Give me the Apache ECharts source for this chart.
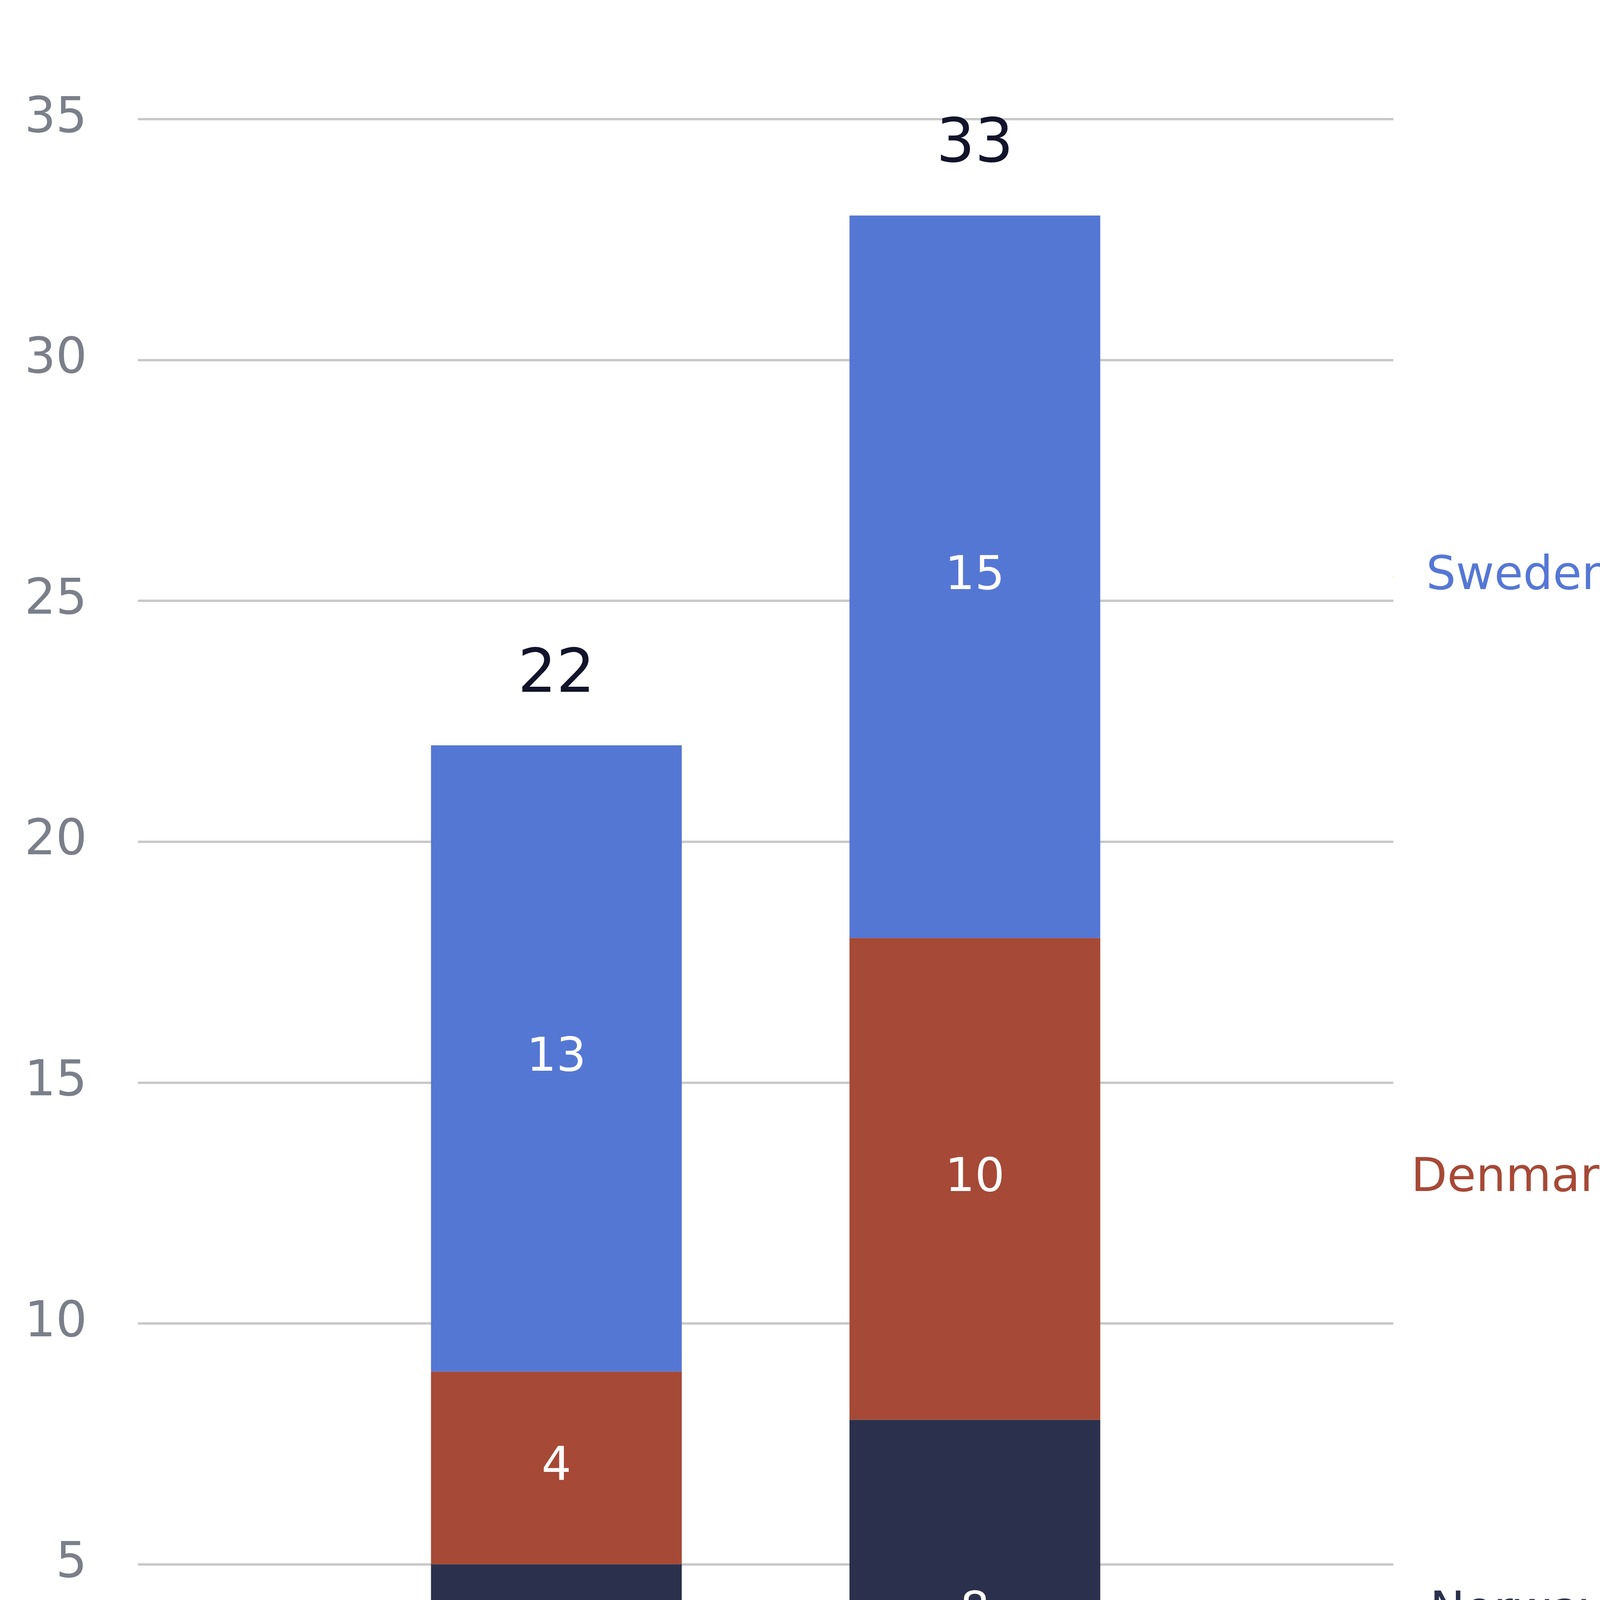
<!DOCTYPE html>
<html>
<head>
<meta charset="utf-8">
<script src="https://cdn.jsdelivr.net/npm/echarts@6/dist/echarts.min.js"></script>
<style>html,body{margin:0;padding:0;background:#fff}#chart{width:4301px;height:4995px}</style>
</head>
<body>
<div id="chart"></div>
<script>
// categories padded with empty slots so the bars sit at 1/3 and 2/3
var years = ['', '2004', '2022', ''];
var norway = [null, 5, 8, null];
var denmark = [null, 4, 10, null];
var sweden = [null, 13, 15, null];
var names = ['Norway', 'Denmark', 'Sweden'];
var colors = ['#2b304c', '#a64936', '#5577d4'];

var values = [norway, denmark, sweden];
var totals = [1, 2].map(function (i) {
    return [years[i], norway[i] + denmark[i] + sweden[i]];
});

// right-side labels at middle of the last bar's segments
var base = 0;
var sideLabels = values.map(function (arr, k) {
    var v = arr[2];
    var mid = base + v / 2;
    base += v;
    return {name: names[k], value: [years[3], mid], label: {color: colors[k]}};
});

var chart = echarts.init(document.getElementById('chart'));
var series = values.map(function (arr, k) {
    return {
        name: names[k],
        type: 'bar',
        stack: 'all',
        barWidth: 642,
        data: arr,
        itemStyle: {color: colors[k]},
        label: {
            show: true,
            position: 'inside',
            color: '#ffffff',
            fontSize: 120,
            fontFamily: 'DejaVu Sans'
        }
    };
});
series.push({
    type: 'scatter',
    symbolSize: 0,
    itemStyle: {opacity: 1},
    data: totals,
    label: {
        show: true,
        position: 'top',
        distance: 100,
        formatter: function (p) { return p.value[1]; },
        color: '#11142a',
        fontSize: 155,
        fontFamily: 'DejaVu Sans'
    }
});
series.push({
    type: 'scatter',
    symbolSize: 0,
    itemStyle: {opacity: 1},
    data: sideLabels,
    label: {
        show: true,
        position: 'inside',
        offset: [321, 0],
        formatter: '{b}',
        fontSize: 120,
        fontFamily: 'DejaVu Sans'
    }
});

chart.setOption({
    animation: false,
    grid: {left: 353, right: 734, top: 305, bottom: 374},
    xAxis: {
        type: 'category',
        data: years,
        boundaryGap: false,
        axisTick: {show: false},
        axisLine: {lineStyle: {color: '#c8c8c8', width: 4}},
        axisLabel: {color: '#7a7f8a', fontSize: 126, margin: 120, fontFamily: 'DejaVu Sans'}
    },
    yAxis: {
        type: 'value',
        min: 0,
        max: 35,
        interval: 5,
        axisLine: {show: false},
        axisTick: {show: false},
        splitLine: {lineStyle: {color: '#c8c8c8', width: 6}},
        axisLabel: {color: '#7a7f8a', fontSize: 126, margin: 130, fontFamily: 'DejaVu Sans'}
    },
    series: series
});
</script>
</body>
</html>
